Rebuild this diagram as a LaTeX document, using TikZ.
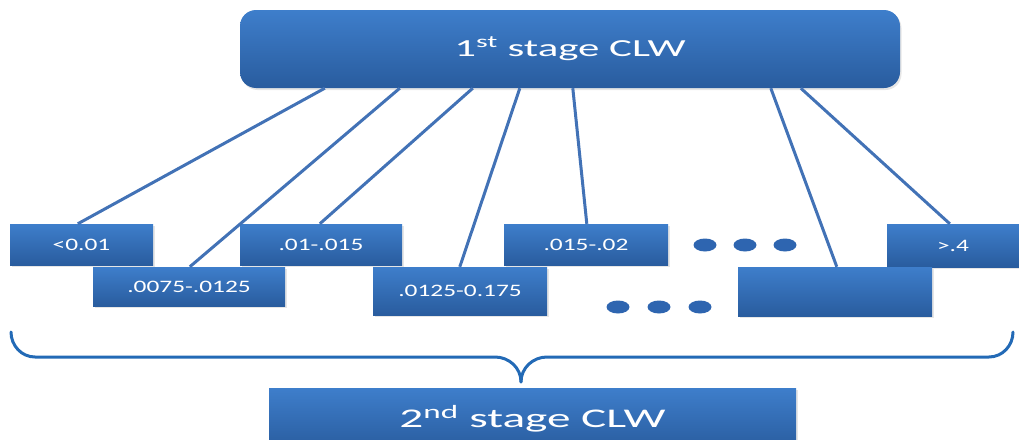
\documentclass[tikz,border=0pt]{standalone}
\usepackage{fontspec}
\setmainfont{Carlito}[FakeStretch=1.45]
\newfontfamily\stagefont{Carlito}[FakeStretch=1.75]
\usetikzlibrary{shadows}
\definecolor{boxtop}{RGB}{62,126,203}
\definecolor{boxbot}{RGB}{41,92,158}
\definecolor{linkblue}{RGB}{66,114,182}
\definecolor{braceblue}{RGB}{35,106,182}
\definecolor{dotblue}{RGB}{46,101,176}
\tikzset{
  binbox/.style   = {rectangle,inner sep=0pt,text=white,
                     top color=boxtop,bottom color=boxbot,
                     drop shadow={opacity=0.2,shadow xshift=1.5pt,shadow yshift=-2pt},
                     font=\fontsize{17.5}{20}\selectfont},
  stagebox/.style = {binbox,font=\stagefont\fontsize{24.5}{28}\selectfont},
  link/.style     = {linkblue,line width=3pt},
  bracket/.style  = {braceblue,line width=3pt,line cap=round}
}

\begin{document}
\begin{tikzpicture}[x=1pt,y=-1pt]
  \useasboundingbox (0,0) rectangle (1019,439);
  \clip (0,0) rectangle (1019,439);
  % first stage
  \node[stagebox,rounded corners=16pt,minimum width=660pt,minimum height=78pt]
       (stage1) at (570,49) {1\textsuperscript{st} stage CLW};
  % bins, upper row
  \node[binbox,minimum width=143pt,minimum height=41pt] (bin1) at (81.5,244.5) {<0.01};
  \node[binbox,minimum width=162pt,minimum height=41pt] (bin3) at (321,244.5) {.01-.015};
  \node[binbox,minimum width=164pt,minimum height=41pt] (bin5) at (586,244.5) {.015-.02};
  \node[binbox,minimum width=132pt,minimum height=43pt] (bin7) at (953,245.5) {>.4};
  % bins, lower row
  \node[binbox,minimum width=192pt,minimum height=39pt] (bin2) at (189,286.5) {.0075-.0125};
  \node[binbox,minimum width=174pt,minimum height=48pt] (bin4) at (460,291) {.0125-0.175};
  \node[binbox,minimum width=194pt,minimum height=49pt] (bin6) at (835,291.5) {};
  % links
  \draw[link] ([xshift=85pt]stage1.south west)  -- ([xshift=68pt]bin1.north west);
  \draw[link] ([xshift=160pt]stage1.south west) -- ([xshift=97pt]bin2.north west);
  \draw[link] ([xshift=233pt]stage1.south west) -- ([xshift=80pt]bin3.north west);
  \draw[link] ([xshift=280pt]stage1.south west) -- ([xshift=87pt]bin4.north west);
  \draw[link] ([xshift=333pt]stage1.south west) -- ([xshift=83pt]bin5.north west);
  \draw[link] ([xshift=531pt]stage1.south west) -- ([xshift=99pt]bin6.north west);
  \draw[link] ([xshift=561pt]stage1.south west) -- ([xshift=63pt]bin7.north west);
  % more bins
  \foreach \x in {705,745,785}
    \fill[dotblue] (\x,245) ellipse (11.5 and 6.5);
  \foreach \x in {618,659,700}
    \fill[dotblue] (\x,307) ellipse (11.5 and 6.5);
  % bracket
  \draw[bracket] (11,332) to[out=-90,in=180] (35,357) -- (495,357)
                 to[out=0,in=90] (521,382);
  \draw[bracket] (521,382) to[out=90,in=180] (547,357) -- (989,357)
                 to[out=0,in=-90] (1013,332);
  % second stage
  \node[stagebox,minimum width=527pt,minimum height=62pt,
        font=\stagefont\fontsize{27}{30}\selectfont]
       (stage2) at (532.5,419) {2\textsuperscript{nd} stage CLW};
\end{tikzpicture}
\end{document}
